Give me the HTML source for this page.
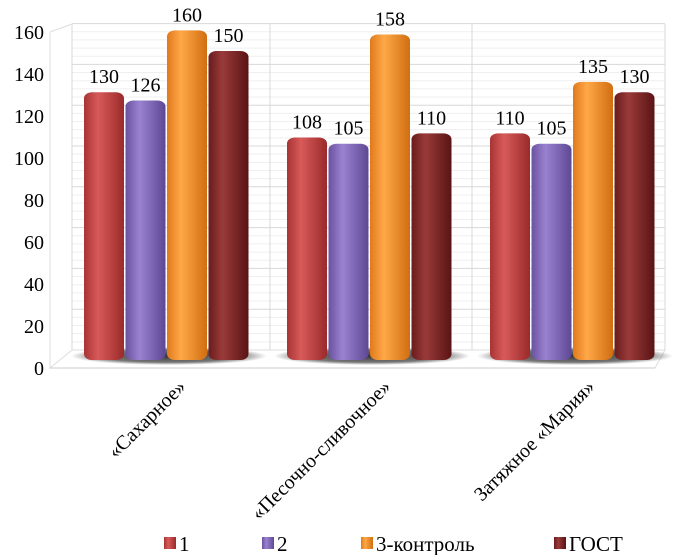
<!DOCTYPE html>
<html><head><meta charset="utf-8"><style>
body{margin:0;background:#fff;}
text{font-family:"Liberation Serif","Times New Roman","DejaVu Serif","Noto Serif CJK SC",serif;}
</style></head><body>
<svg width="692" height="555">
<defs>
<linearGradient id="g0" x1="0" x2="1"><stop offset="0" stop-color="#a83434"/><stop offset=".35" stop-color="#d85a5a"/><stop offset="1" stop-color="#9a2a2a"/></linearGradient>
<linearGradient id="g1" x1="0" x2="1"><stop offset="0" stop-color="#6a52a0"/><stop offset=".35" stop-color="#9a82d0"/><stop offset="1" stop-color="#5e4894"/></linearGradient>
<linearGradient id="g2" x1="0" x2="1"><stop offset="0" stop-color="#e07a1c"/><stop offset=".35" stop-color="#ffa848"/><stop offset="1" stop-color="#d06e10"/></linearGradient>
<linearGradient id="g3" x1="0" x2="1"><stop offset="0" stop-color="#6a1c1c"/><stop offset=".35" stop-color="#9a3a3a"/><stop offset="1" stop-color="#5a1414"/></linearGradient>
<radialGradient id="sh"><stop offset="0" stop-color="#333"/><stop offset=".7" stop-color="#555" stop-opacity=".8"/><stop offset="1" stop-color="#555" stop-opacity="0"/></radialGradient>
</defs>
<g id="grid"></g>
<g id="bars"></g>
<g id="labels"></g>
<g id="legend"></g>
</svg>
<script>
const categories=["«Сахарное»","«Песочно-сливочное»","Затяжное «Мария»"];
const seriesNames=["1","2","3-контроль","ГОСТ"];
const s1=[130,108,110];
const s2=[126,105,105];
const s3=[160,158,135];
const s4=[150,110,130];
const series=[s1,s2,s3,s4];
const ticks=[0,20,40,60,80,100,120,140,160];
const NS="http://www.w3.org/2000/svg";
function mk(t,a,p){const e=document.createElementNS(NS,t);for(const k in a)e.setAttribute(k,a[k]);if(t==='text')e.style.fontFamily='"Liberation Serif","DejaVu Serif",serif';p.appendChild(e);return e;}
const base=360,k=2.06;
const yb=v=>base-v*k;
const yl=v=>368-v*2.1;
const gx=i=>84+i*203;
const grid=document.getElementById('grid');
for(let v=0;v<=160;v+=4){
 const l=mk('line',{x1:72,x2:665,y1:350-v*2.04,y2:350-v*2.04,stroke:v%20==0?'#d8d8d8':'#efefef','stroke-width':1},grid);
 
}
[72,270,472,665].forEach(x=>{const l=mk('line',{x1:x,x2:x,y1:24,y2:350,stroke:'#d8d8d8'},grid);});
mk('line',{x1:72,y1:24,x2:50,y2:32,stroke:'#ddd'},grid);
mk('line',{x1:50,y1:32,x2:50,y2:368,stroke:'#ddd'},grid);
mk('polygon',{points:'72,350 665,350 655,368 50,368',fill:'none',stroke:'#ddd'},grid);
const ax=mk('line',{x1:50,y1:368,x2:655,y2:368,stroke:'#ccc'},grid);

ticks.forEach(t=>{const e=mk('text',{x:44,y:yl(t)+7,'text-anchor':'end','font-size':20},grid);e.textContent=t;
});
const bars=document.getElementById('bars');
categories.forEach((c,i)=>{
 const sh=mk('ellipse',{cx:gx(i)+85,cy:356,rx:98,ry:9,fill:'url(#sh)'},bars);
 
 series.forEach((s,j)=>{
  const x=gx(i)+j*41.5, y=yb(s[i]);
  const r=mk('rect',{x:x,y:y,width:40,height:base-y,rx:8,ry:6,fill:'url(#g'+j+')'},bars);
  
  const t=mk('text',{x:x+20,y:y-9,'text-anchor':'middle','font-size':20},bars);t.textContent=s[i];
  
 });
});
const lab=document.getElementById('labels');
const lx=[187,392,596];
categories.forEach((c,i)=>{const t=mk('text',{x:lx[i],y:388,'text-anchor':'end','font-size':20,transform:`rotate(-45 ${lx[i]} 388)`},lab);t.textContent=c;
});
const leg=document.getElementById('legend');
const lgx=[164,262,361,554];
seriesNames.forEach((n,j)=>{
 const r=mk('rect',{x:lgx[j],y:537,width:12,height:12,fill:'url(#g'+j+')'},leg);
 
 const t=mk('text',{x:lgx[j]+15,y:551,'font-size':21},leg);t.textContent=n;
 
});
</script>
</body></html>
